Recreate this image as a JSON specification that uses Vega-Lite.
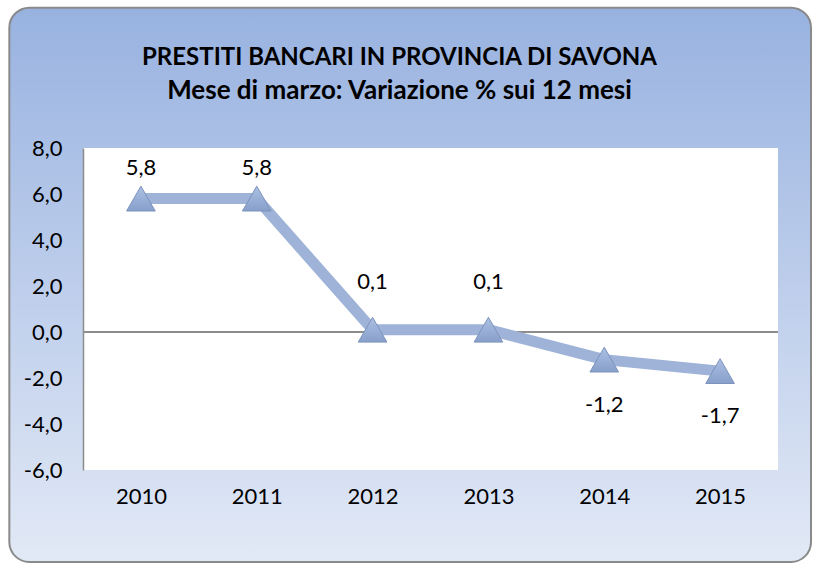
{
  "$schema": "https://vega.github.io/schema/vega-lite/v6.json",
  "width": 695,
  "height": 322,
  "autosize": {"type": "none"},
  "padding": {"left": 83, "top": 148, "right": 37, "bottom": 93},
  "background": "#ffffff",
  "config": {
    "locale": {"number": {"decimal": ",", "thousands": ".", "grouping": [3], "currency": ["€", ""], "minus": "-"}},
    "view": {"stroke": null},
    "font": "Lato"
  },
  "title": {
    "text": "PRESTITI BANCARI IN PROVINCIA DI SAVONA",
    "subtitle": "Mese di marzo: Variazione % sui 12 mesi",
    "font": "Lato",
    "fontSize": 24,
    "fontWeight": "bold",
    "color": "#000000",
    "subtitleFont": "Lato",
    "subtitleFontSize": 26,
    "subtitleFontWeight": "bold",
    "subtitleColor": "#000000",
    "subtitlePadding": 8,
    "anchor": "middle",
    "frame": "group",
    "dx": -31,
    "offset": -97
  },
  "layer": [
    {
      "data": {"values": [{"x0": 0, "x1": 1}]},
      "mark": {
        "type": "rect",
        "cornerRadius": 20,
        "stroke": "#8a8a8a",
        "strokeWidth": 2,
        "fill": {
          "gradient": "linear", "x1": 0, "y1": 0, "x2": 0, "y2": 1,
          "stops": [{"offset": 0, "color": "#98b2e0"}, {"offset": 1, "color": "#e2e9f6"}]
        }
      },
      "encoding": {
        "x": {"datum": -0.106, "type": "quantitative", "scale": {"domain": [0, 1]}, "axis": null},
        "x2": {"datum": 1.0475},
        "y": {"datum": 14.1, "type": "quantitative", "scale": {"domain": [-6, 8]}},
        "y2": {"datum": -10.0}
      }
    },
    {
      "data": {"values": [
        {"year": "2010", "value": 5.8},
        {"year": "2011", "value": 5.8},
        {"year": "2012", "value": 0.1},
        {"year": "2013", "value": 0.1},
        {"year": "2014", "value": -1.2},
        {"year": "2015", "value": -1.7}
      ]},
      "encoding": {
        "x": {"field": "year", "type": "nominal", "scale": {"paddingInner": 0, "paddingOuter": 0}, "axis": {"title": null, "labelAngle": 0, "domain": false, "ticks": false, "labelFontSize": 22, "labelFont": "Lato", "labelColor": "#000000", "labelPadding": 16, "zindex": 1}},
        "y": {"field": "value", "type": "quantitative", "scale": {"domain": [-6, 8], "nice": false}, "axis": {"title": null, "values": [-6, -4, -2, 0, 2, 4, 6, 8], "format": ".1f", "grid": false, "ticks": false, "domain": true, "domainColor": "#8c8c8c", "domainWidth": 1.5, "labelFontSize": 22, "labelFont": "Lato", "labelColor": "#000000", "labelPadding": 21, "zindex": 1}}
      },
      "layer": [
        {
          "mark": {"type": "rect", "fill": "#ffffff"},
          "encoding": {
            "x": {"value": 0},
            "x2": {"value": 695},
            "y": {"datum": 8, "type": "quantitative"},
            "y2": {"datum": -6}
          }
        },
        {
          "mark": {"type": "rule", "color": "#8c8c8c", "strokeWidth": 1.5},
          "encoding": {"x": null, "y": {"datum": 0, "type": "quantitative"}}
        },
        {
          "mark": {"type": "line", "color": "#9eb3d7", "strokeWidth": 11, "strokeJoin": "round"}
        },
        {
          "mark": {"type": "point", "shape": "triangle-up", "size": 820, "filled": true, "opacity": 1, "strokeWidth": 1, "stroke": "#7c93bd",
            "fill": {"gradient": "linear", "x1": 0, "y1": 0, "x2": 0, "y2": 1, "stops": [{"offset": 0, "color": "#acc0e3"}, {"offset": 1, "color": "#879fca"}]}}
        },
        {
          "transform": [{"filter": "datum.value > 1"}],
          "mark": {"type": "text", "fontSize": 22, "font": "Lato", "color": "#000000", "dy": -31},
          "encoding": {"text": {"field": "value", "type": "quantitative", "format": ".1f"}}
        },
        {
          "transform": [{"filter": "datum.value >= 0 && datum.value <= 1"}],
          "mark": {"type": "text", "fontSize": 22, "font": "Lato", "color": "#000000", "dy": -48},
          "encoding": {"text": {"field": "value", "type": "quantitative", "format": ".1f"}}
        },
        {
          "transform": [{"filter": "datum.value < 0"}],
          "mark": {"type": "text", "fontSize": 22, "font": "Lato", "color": "#000000", "dy": 45},
          "encoding": {"text": {"field": "value", "type": "quantitative", "format": ".1f"}}
        }
      ]
    }
  ],
  "resolve": {"scale": {"x": "independent"}}
}
